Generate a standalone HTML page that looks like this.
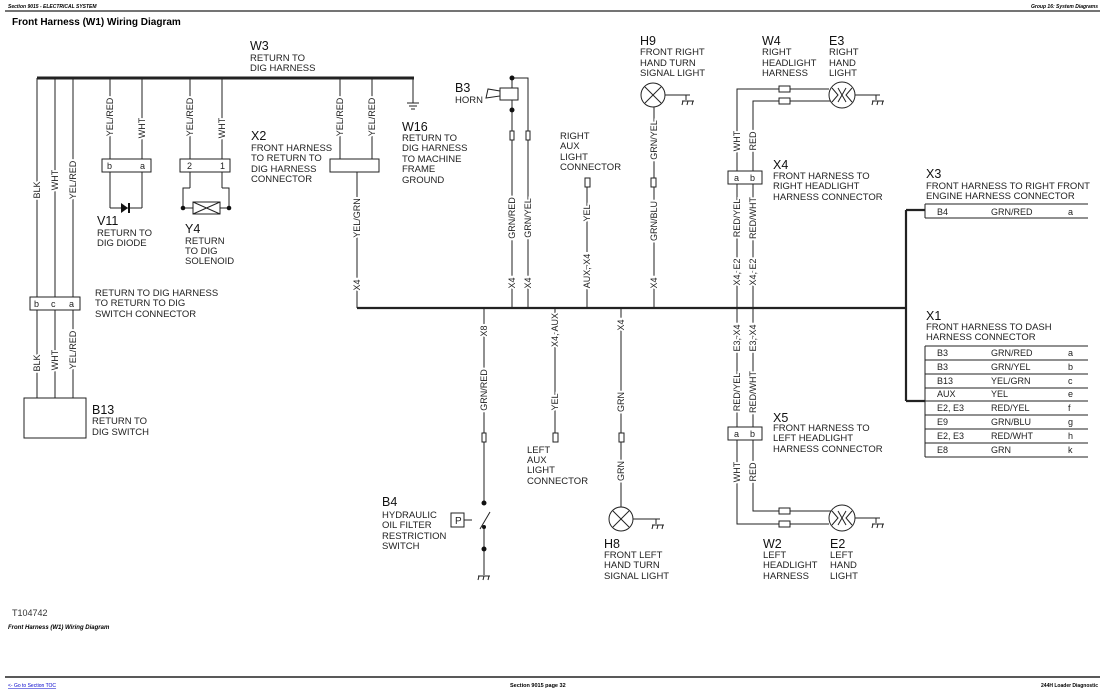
<!DOCTYPE html>
<html><head><meta charset="utf-8"><style>
body{margin:0;background:#fff}
svg{display:block;font-family:"Liberation Sans",sans-serif}
.l{font-size:9.5px;fill:#222}
.id{font-size:12.5px;fill:#111}
.w{font-size:9px;fill:#222;stroke:#fff;stroke-width:4px;paint-order:stroke}
.t{font-size:9.5px;fill:#222}
</style></head><body>
<svg width="1105" height="692" viewBox="0 0 1105 692" xmlns="http://www.w3.org/2000/svg">
<g fill="none" stroke="#222" stroke-width="1">
<!-- header -->
<line x1="5" y1="11" x2="1100" y2="11" stroke-width="1.2"/>
<line x1="5" y1="677" x2="1100" y2="677" stroke-width="1.5"/>
<!-- top bus -->
<line x1="37" y1="78" x2="414" y2="78" stroke-width="3"/>
<!-- left three wires -->
<line x1="37" y1="78" x2="37" y2="398"/><line x1="55" y1="78" x2="55" y2="398"/><line x1="73" y1="78" x2="73" y2="398"/>
<rect x="30" y="297" width="50" height="13" fill="#fff"/>
<rect x="24" y="398" width="62" height="40"/>
<!-- V11 -->
<line x1="110" y1="78" x2="110" y2="208"/><line x1="142" y1="78" x2="142" y2="208"/>
<line x1="110" y1="208" x2="142" y2="208"/>
<rect x="102" y="159" width="49" height="13" fill="#fff"/>
<!-- Y4 -->
<line x1="190" y1="78" x2="190" y2="188"/><line x1="222" y1="78" x2="222" y2="188"/>
<polyline points="190,188 183,188 183,208 229,208 229,188 222,188"/>
<rect x="180" y="159" width="50" height="13" fill="#fff"/>
<rect x="193" y="202" width="27" height="12" fill="#fff"/>
<line x1="193" y1="202" x2="220" y2="214"/><line x1="193" y1="214" x2="220" y2="202"/>
<!-- X2 -->
<line x1="340" y1="78" x2="340" y2="159"/><line x1="372" y1="78" x2="372" y2="159"/>
<rect x="330" y="159" width="49" height="13"/>
<line x1="357" y1="172" x2="357" y2="308"/>
<!-- W16 ground -->
<line x1="413" y1="78" x2="413" y2="103"/>
<line x1="407" y1="103" x2="419" y2="103"/><line x1="409" y1="106" x2="417" y2="106"/><line x1="411" y1="109" x2="415" y2="109"/>
<!-- main bus -->
<line x1="357" y1="308" x2="906" y2="308" stroke-width="2.2"/>
<line x1="906" y1="210" x2="906" y2="401" stroke-width="2.2"/>
<line x1="906" y1="210" x2="925" y2="210" stroke-width="2.2"/>
<line x1="906" y1="401" x2="925" y2="401" stroke-width="2.2"/>
<!-- X3 table -->
<line x1="925" y1="204" x2="1088" y2="204"/><line x1="925" y1="218" x2="1088" y2="218"/><line x1="925" y1="204" x2="925" y2="218"/>
<!-- X1 table -->
<line x1="925" y1="346" x2="925" y2="457"/>
<line x1="925" y1="346" x2="1088" y2="346"/><line x1="925" y1="360" x2="1088" y2="360"/><line x1="925" y1="374" x2="1088" y2="374"/><line x1="925" y1="388" x2="1088" y2="388"/><line x1="925" y1="401" x2="1088" y2="401"/><line x1="925" y1="415" x2="1088" y2="415"/><line x1="925" y1="429" x2="1088" y2="429"/><line x1="925" y1="443" x2="1088" y2="443"/><line x1="925" y1="457" x2="1088" y2="457"/>
<!-- B3 horn -->
<polyline points="512,78 528,78 528,308"/>
<line x1="512" y1="78" x2="512" y2="88"/><line x1="512" y1="100" x2="512" y2="308"/>
<rect x="500" y="88" width="18" height="12"/>
<polygon points="500,91 488,89 486,98 500,96"/>
<rect x="510" y="131" width="4" height="9" fill="#fff"/><rect x="526" y="131" width="4" height="9" fill="#fff"/>
<!-- right aux -->
<rect x="585" y="178" width="5" height="9" fill="#fff"/>
<line x1="587" y1="187" x2="587" y2="308"/>
<!-- H9 -->
<circle cx="653" cy="95" r="12"/>
<line x1="645" y1="87" x2="661" y2="103"/><line x1="661" y1="87" x2="645" y2="103"/>
<line x1="665" y1="95" x2="690" y2="95"/>
<line x1="654" y1="107" x2="654" y2="308"/>
<rect x="651" y="178" width="5" height="9" fill="#fff"/>
<!-- W4 / E3 -->
<polyline points="737,308 737,89 829,89"/>
<polyline points="753,308 753,101 831,101"/>
<rect x="779" y="86" width="11" height="6" fill="#fff"/><rect x="779" y="98" width="11" height="6" fill="#fff"/>
<circle cx="842" cy="95" r="13" fill="#fff"/>
<polyline points="832,88 838,95 832,102"/><polyline points="852,88 846,95 852,102"/><line x1="838" y1="88" x2="846" y2="102"/><line x1="846" y1="88" x2="838" y2="102"/>
<line x1="855" y1="95" x2="880" y2="95"/>
<rect x="728" y="171" width="34" height="13" fill="#fff"/>
<!-- X8 / B4 -->
<line x1="484" y1="308" x2="484" y2="503"/>
<rect x="482" y="433" width="4" height="9" fill="#fff"/>
<line x1="484" y1="527" x2="484" y2="575"/>
<line x1="480" y1="529" x2="490" y2="512"/>
<rect x="451" y="513" width="13" height="14"/>
<line x1="464" y1="520" x2="472" y2="520"/>
<!-- left aux -->
<line x1="555" y1="308" x2="555" y2="433"/>
<rect x="553" y="433" width="5" height="9" fill="#fff"/>
<!-- H8 -->
<line x1="621" y1="308" x2="621" y2="507"/>
<rect x="619" y="433" width="5" height="9" fill="#fff"/>
<circle cx="621" cy="519" r="12"/>
<line x1="613" y1="511" x2="629" y2="527"/><line x1="629" y1="511" x2="613" y2="527"/>
<line x1="633" y1="519" x2="660" y2="519"/>
<!-- X5 / W2 / E2 -->
<polyline points="737,308 737,524 829,524"/>
<polyline points="753,308 753,511 831,511"/>
<rect x="728" y="427" width="34" height="13" fill="#fff"/>
<rect x="779" y="508" width="11" height="6" fill="#fff"/><rect x="779" y="521" width="11" height="6" fill="#fff"/>
<circle cx="842" cy="518" r="13" fill="#fff"/>
<polyline points="832,511 838,518 832,525"/><polyline points="852,511 846,518 852,525"/><line x1="838" y1="511" x2="846" y2="525"/><line x1="846" y1="511" x2="838" y2="525"/>
<line x1="855" y1="518" x2="880" y2="518"/>
<!-- grounds -->
<g id="g"></g>
<path d="M686,95v5M682,101h12M683,101l-1,4M688,101l-1,4M693,101l-1,4"/>
<path d="M876,95v5M872,101h12M873,101l-1,4M878,101l-1,4M883,101l-1,4"/>
<path d="M656,519v5M652,525h12M653,525l-1,4M658,525l-1,4M663,525l-1,4"/>
<path d="M876,518v5M872,524h12M873,524l-1,4M878,524l-1,4M883,524l-1,4"/>
<path d="M478,576h12M479,576l-1,4M484,576l-1,4M489,576l-1,4"/>
</g>
<g fill="#111">
<polygon points="121,203 121,213 128,208"/><rect x="128" y="203" width="2" height="10"/>
<circle cx="183" cy="208" r="2.3"/><circle cx="229" cy="208" r="2.3"/>
<circle cx="512" cy="78" r="2.5"/><circle cx="512" cy="110" r="2.5"/>
<circle cx="484" cy="503" r="2.5"/><circle cx="484" cy="527" r="2"/><circle cx="484" cy="549" r="2.5"/>
</g>
<!-- header text -->
<text x="8" y="8" style="font-size:5px;font-weight:bold;font-style:italic">Section 9015 - ELECTRICAL SYSTEM</text>
<text x="1098" y="8" text-anchor="end" style="font-size:5px;font-weight:bold;font-style:italic">Group 16: System Diagrams</text>
<text x="12" y="25" style="font-size:10px;font-weight:bold">Front Harness (W1) Wiring Diagram</text>
<text x="12" y="616" style="font-size:9px;fill:#333">T104742</text>
<text x="8" y="629" style="font-size:6px;font-weight:bold;font-style:italic">Front Harness (W1) Wiring Diagram</text>
<text x="8" y="687" style="font-size:5px;fill:#00c;text-decoration:underline">&lt;- Go to Section TOC</text>
<text x="510" y="687" style="font-size:5.5px;font-weight:bold">Section 9015 page 32</text>
<text x="1098" y="687" text-anchor="end" style="font-size:5px;font-weight:bold">244H Loader Diagnostic</text>
<!-- IDs and descriptions -->
<text class="id" x="250" y="50">W3</text><text class="l" x="250" y="61">RETURN TO</text><text class="l" x="250" y="71">DIG HARNESS</text>
<text class="id" x="251" y="140">X2</text><text class="l" x="251" y="151">FRONT HARNESS</text><text class="l" x="251" y="161">TO RETURN TO</text><text class="l" x="251" y="172">DIG HARNESS</text><text class="l" x="251" y="182">CONNECTOR</text>
<text class="id" x="402" y="131">W16</text><text class="l" x="402" y="141">RETURN TO</text><text class="l" x="402" y="151">DIG HARNESS</text><text class="l" x="402" y="162">TO MACHINE</text><text class="l" x="402" y="172">FRAME</text><text class="l" x="402" y="183">GROUND</text>
<text class="id" x="97" y="225">V11</text><text class="l" x="97" y="236">RETURN TO</text><text class="l" x="97" y="246">DIG DIODE</text>
<text class="id" x="185" y="233">Y4</text><text class="l" x="185" y="244">RETURN</text><text class="l" x="185" y="254">TO DIG</text><text class="l" x="185" y="264">SOLENOID</text>
<text class="l" x="95" y="296">RETURN TO DIG HARNESS</text><text class="l" x="95" y="306">TO RETURN TO DIG</text><text class="l" x="95" y="317">SWITCH CONNECTOR</text>
<text class="id" x="92" y="414">B13</text><text class="l" x="92" y="424">RETURN TO</text><text class="l" x="92" y="435">DIG SWITCH</text>
<text class="id" x="455" y="92">B3</text><text class="l" x="455" y="103">HORN</text>
<text class="l" x="560" y="139">RIGHT</text><text class="l" x="560" y="149">AUX</text><text class="l" x="560" y="160">LIGHT</text><text class="l" x="560" y="170">CONNECTOR</text>
<text class="id" x="640" y="45">H9</text><text class="l" x="640" y="55">FRONT RIGHT</text><text class="l" x="640" y="66">HAND TURN</text><text class="l" x="640" y="76">SIGNAL LIGHT</text>
<text class="id" x="762" y="45">W4</text><text class="l" x="762" y="55">RIGHT</text><text class="l" x="762" y="66">HEADLIGHT</text><text class="l" x="762" y="76">HARNESS</text>
<text class="id" x="829" y="45">E3</text><text class="l" x="829" y="55">RIGHT</text><text class="l" x="829" y="66">HAND</text><text class="l" x="829" y="76">LIGHT</text>
<text class="id" x="773" y="169">X4</text><text class="l" x="773" y="179">FRONT HARNESS TO</text><text class="l" x="773" y="189">RIGHT HEADLIGHT</text><text class="l" x="773" y="200">HARNESS CONNECTOR</text>
<text class="id" x="926" y="178">X3</text><text class="l" x="926" y="189">FRONT HARNESS TO RIGHT FRONT</text><text class="l" x="926" y="199">ENGINE HARNESS CONNECTOR</text>
<text class="id" x="926" y="320">X1</text><text class="l" x="926" y="330">FRONT HARNESS TO DASH</text><text class="l" x="926" y="340">HARNESS CONNECTOR</text>
<text class="id" x="382" y="506">B4</text><text class="l" x="382" y="518">HYDRAULIC</text><text class="l" x="382" y="528">OIL FILTER</text><text class="l" x="382" y="539">RESTRICTION</text><text class="l" x="382" y="549">SWITCH</text>
<text class="l" x="455" y="524" style="font-size:10px">P</text>
<text class="l" x="527" y="453">LEFT</text><text class="l" x="527" y="463">AUX</text><text class="l" x="527" y="473">LIGHT</text><text class="l" x="527" y="484">CONNECTOR</text>
<text class="id" x="604" y="548">H8</text><text class="l" x="604" y="558">FRONT LEFT</text><text class="l" x="604" y="568">HAND TURN</text><text class="l" x="604" y="579">SIGNAL LIGHT</text>
<text class="id" x="763" y="548">W2</text><text class="l" x="763" y="558">LEFT</text><text class="l" x="763" y="568">HEADLIGHT</text><text class="l" x="763" y="579">HARNESS</text>
<text class="id" x="830" y="548">E2</text><text class="l" x="830" y="558">LEFT</text><text class="l" x="830" y="568">HAND</text><text class="l" x="830" y="579">LIGHT</text>
<text class="id" x="773" y="422">X5</text><text class="l" x="773" y="431">FRONT HARNESS TO</text><text class="l" x="773" y="441">LEFT HEADLIGHT</text><text class="l" x="773" y="452">HARNESS CONNECTOR</text>
<!-- connector pin letters -->
<g class="t" style="font-size:9px">
<text x="34" y="307">b</text><text x="51" y="307">c</text><text x="69" y="307">a</text>
<text x="107" y="169">b</text><text x="140" y="169">a</text>
<text x="187" y="169">2</text><text x="220" y="169">1</text>
<text x="734" y="181">a</text><text x="750" y="181">b</text>
<text x="734" y="437">a</text><text x="750" y="437">b</text>
<text x="937" y="215">B4</text><text x="991" y="215">GRN/RED</text><text x="1068" y="215">a</text>
<text x="937" y="356">B3</text><text x="991" y="356">GRN/RED</text><text x="1068" y="356">a</text>
<text x="937" y="370">B3</text><text x="991" y="370">GRN/YEL</text><text x="1068" y="370">b</text>
<text x="937" y="384">B13</text><text x="991" y="384">YEL/GRN</text><text x="1068" y="384">c</text>
<text x="937" y="397">AUX</text><text x="991" y="397">YEL</text><text x="1068" y="397">e</text>
<text x="937" y="411">E2, E3</text><text x="991" y="411">RED/YEL</text><text x="1068" y="411">f</text>
<text x="937" y="425">E9</text><text x="991" y="425">GRN/BLU</text><text x="1068" y="425">g</text>
<text x="937" y="439">E2, E3</text><text x="991" y="439">RED/WHT</text><text x="1068" y="439">h</text>
<text x="937" y="453">E8</text><text x="991" y="453">GRN</text><text x="1068" y="453">k</text>
</g>
<!-- wire labels (rotated) -->
<g class="w" text-anchor="middle">
<text transform="translate(40,190) rotate(-90)">BLK</text>
<text transform="translate(58,180) rotate(-90)">WHT</text>
<text transform="translate(76,180) rotate(-90)">YEL/RED</text>
<text transform="translate(40,363) rotate(-90)">BLK</text>
<text transform="translate(58,360) rotate(-90)">WHT</text>
<text transform="translate(76,350) rotate(-90)">YEL/RED</text>
<text transform="translate(113,117) rotate(-90)">YEL/RED</text>
<text transform="translate(145,128) rotate(-90)">WHT</text>
<text transform="translate(193,117) rotate(-90)">YEL/RED</text>
<text transform="translate(225,128) rotate(-90)">WHT</text>
<text transform="translate(343,117) rotate(-90)">YEL/RED</text>
<text transform="translate(375,117) rotate(-90)">YEL/RED</text>
<text transform="translate(360,218) rotate(-90)">YEL/GRN</text>
<text transform="translate(360,285) rotate(-90)">X4</text>
<text transform="translate(515,218) rotate(-90)">GRN/RED</text>
<text transform="translate(531,218) rotate(-90)">GRN/YEL</text>
<text transform="translate(515,283) rotate(-90)">X4</text>
<text transform="translate(531,283) rotate(-90)">X4</text>
<text transform="translate(590,213) rotate(-90)">YEL</text>
<text transform="translate(590,271) rotate(-90)">AUX, X4</text>
<text transform="translate(657,140) rotate(-90)">GRN/YEL</text>
<text transform="translate(657,221) rotate(-90)">GRN/BLU</text>
<text transform="translate(657,283) rotate(-90)">X4</text>
<text transform="translate(740,141) rotate(-90)">WHT</text>
<text transform="translate(756,141) rotate(-90)">RED</text>
<text transform="translate(740,218) rotate(-90)">RED/YEL</text>
<text transform="translate(756,218) rotate(-90)">RED/WHT</text>
<text transform="translate(740,272) rotate(-90)">X4, E2</text>
<text transform="translate(756,272) rotate(-90)">X4, E2</text>
<text transform="translate(487,331) rotate(-90)">X8</text>
<text transform="translate(487,390) rotate(-90)">GRN/RED</text>
<text transform="translate(558,330) rotate(-90)">X4, AUX</text>
<text transform="translate(558,402) rotate(-90)">YEL</text>
<text transform="translate(624,325) rotate(-90)">X4</text>
<text transform="translate(624,402) rotate(-90)">GRN</text>
<text transform="translate(624,471) rotate(-90)">GRN</text>
<text transform="translate(740,338) rotate(-90)">E3, X4</text>
<text transform="translate(756,338) rotate(-90)">E3, X4</text>
<text transform="translate(740,392) rotate(-90)">RED/YEL</text>
<text transform="translate(756,392) rotate(-90)">RED/WHT</text>
<text transform="translate(740,472) rotate(-90)">WHT</text>
<text transform="translate(756,472) rotate(-90)">RED</text>
</g>
</svg>
</body></html>
